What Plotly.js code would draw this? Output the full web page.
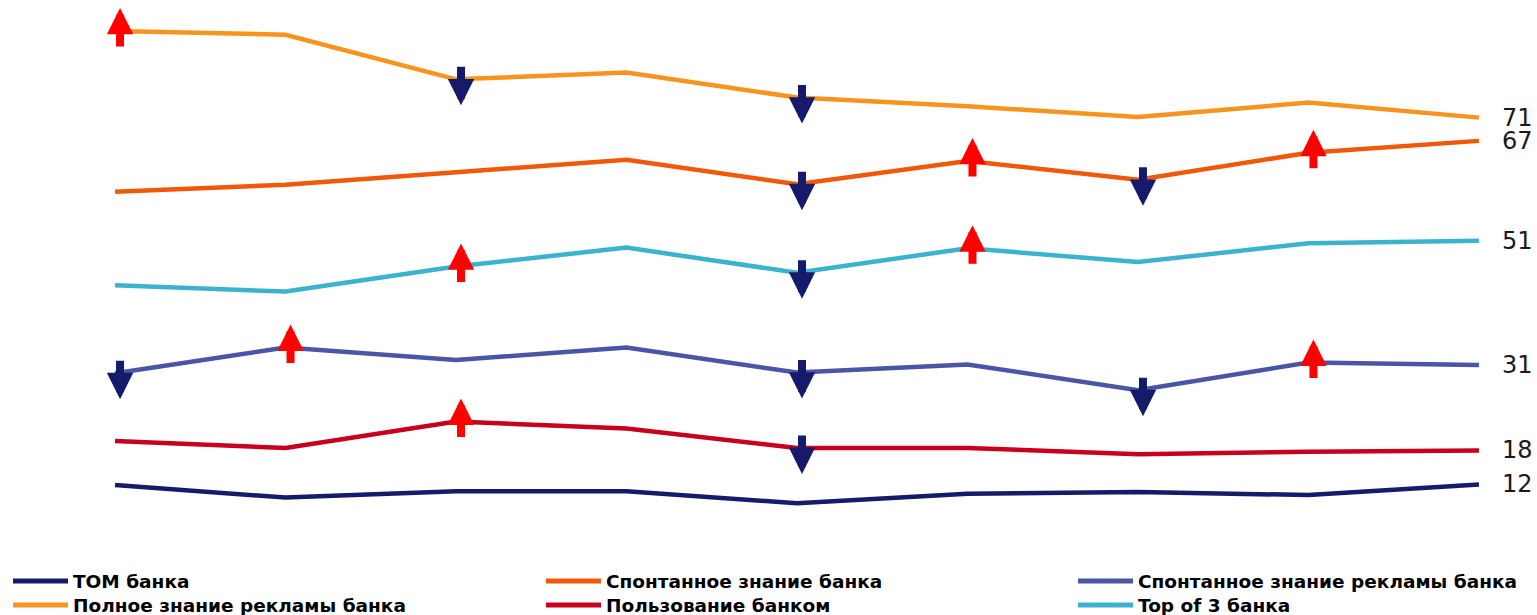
<!DOCTYPE html>
<html>
<head>
<meta charset="utf-8">
<script src="https://cdn.plot.ly/plotly-3.0.1.min.js"></script>
<style>html,body{margin:0;padding:0;background:#fff;}#chart{width:1537px;height:615px;}</style>
</head>
<body>
<div id="chart"></div>
<script>
// ---- data ----
const periods = ['1','2','3','4','5','6','7','8','9'];
const seriesNames = ['ТОМ банка','Спонтанное знание банка','Спонтанное знание рекламы банка',
                     'Полное знание рекламы банка','Пользование банком','Top of 3 банка'];
const tomValues      = [12.1, 10.1, 11.1, 11.1, 9.2, 10.7, 11.0, 10.5, 12.2];
const spontBank      = [58.8, 59.9, 61.9, 63.9, 60.0, 63.7, 60.7, 65.0, 66.9];
const spontAds       = [29.9, 34.0, 32.0, 34.0, 30.0, 31.3, 27.2, 31.6, 31.2];
const fullAds        = [84.4, 83.8, 76.7, 77.8, 73.8, 72.4, 70.7, 73.0, 70.6];
const usage          = [19.1, 18.0, 22.2, 21.1, 18.0, 18.0, 17.0, 17.4, 17.6];
const top3           = [43.9, 42.9, 46.9, 49.9, 45.9, 49.8, 47.6, 50.6, 51.0];
// significant change flags: 1 = up, -1 = down, 0 = none
const tomChange      = [0, 0, 0, 0, 0, 0, 0, 0, 0];
const spontBankChg   = [0, 0, 0, 0, -1, 1, -1, 1, 0];
const spontAdsChg    = [-1, 1, 0, 0, -1, 0, -1, 1, 0];
const fullAdsChg     = [1, 0, -1, 0, -1, 0, 0, 0, 0];
const usageChg       = [0, 0, 1, 0, -1, 0, 0, 0, 0];
const top3Chg        = [0, 0, 1, 0, -1, 1, 0, 0, 0];

const allValues  = [tomValues, spontBank, spontAds, fullAds, usage, top3];
const allChanges = [tomChange, spontBankChg, spontAdsChg, fullAdsChg, usageChg, top3Chg];
const colors = ['#151A6B','#F0580A','#4A55A5','#F7941E','#C8001E','#3CB3CC'];
const upColor = '#FF0000', downColor = '#151A6B';

// ---- layout constants ----
const W = 1537, H = 615;
const M = {l: 98, r: 41, t: 0, b: 54};
const plotW = W - M.l - M.r, plotH = H - M.t - M.b;
const px2x = p => (p - M.l) / plotW;
const py2y = p => (H - M.b - p) / plotH;

const xIdx = periods.map((_, i) => i);

const traces = allValues.map((vals, s) => ({
  type: 'scatter', mode: 'lines', x: xIdx, y: vals, name: seriesNames[s],
  line: {color: colors[s], width: 4.5}, hoverinfo: 'x+y+name', showlegend: false
}));

const annotations = [];
const shapes = [];
// arrows
allChanges.forEach((chg, s) => {
  chg.forEach((c, i) => {
    if (c === 0) return;
    annotations.push({
      x: i, y: allValues[s][i], xref: 'x', yref: 'y', text: '',
      showarrow: true, arrowhead: 2, arrowsize: 0.66, arrowwidth: 8,
      arrowcolor: c > 0 ? upColor : downColor,
      ax: 0, ay: c > 0 ? 40 : -40, standoff: 0,
      xshift: 5, yshift: c > 0 ? 23 : -26
    });
  });
});
// end labels
allValues.forEach((vals, s) => {
  const last = vals[vals.length - 1];
  annotations.push({
    x: vals.length - 1, y: last, xref: 'x', yref: 'y',
    text: String(Math.round(last)), showarrow: false,
    xanchor: 'left', yanchor: 'middle', xshift: 21,
    font: {family: 'DejaVu Sans, Verdana, sans-serif', size: 24, color: '#1a1a1a'}
  });
});
// manual legend
const colStarts = [13, 546, 1078];
const rowYs = [581, 605];
seriesNames.forEach((name, s) => {
  const c = s % 3, r = Math.floor(s / 3);
  shapes.push({
    type: 'line', xref: 'paper', yref: 'paper',
    x0: px2x(colStarts[c]), x1: px2x(colStarts[c] + 55),
    y0: py2y(rowYs[r]), y1: py2y(rowYs[r]),
    line: {color: colors[s], width: 5}
  });
  annotations.push({
    xref: 'paper', yref: 'paper', x: px2x(colStarts[c] + 58), y: py2y(rowYs[r]),
    xanchor: 'left', yanchor: 'middle', showarrow: false,
    text: '<b>' + name + '</b>',
    font: {family: 'DejaVu Sans, Verdana, sans-serif', size: 18.5, color: '#000'}
  });
});

const layout = {
  width: W, height: H, margin: M,
  paper_bgcolor: '#fff', plot_bgcolor: '#fff',
  showlegend: false,
  xaxis: {range: [-0.1, 8.1], visible: false, fixedrange: true},
  yaxis: {range: [0, plotH / 6.28], visible: false, fixedrange: true},
  annotations: annotations, shapes: shapes
};

Plotly.newPlot('chart', traces, layout, {displayModeBar: false, staticPlot: true});
</script>
</body>
</html>
